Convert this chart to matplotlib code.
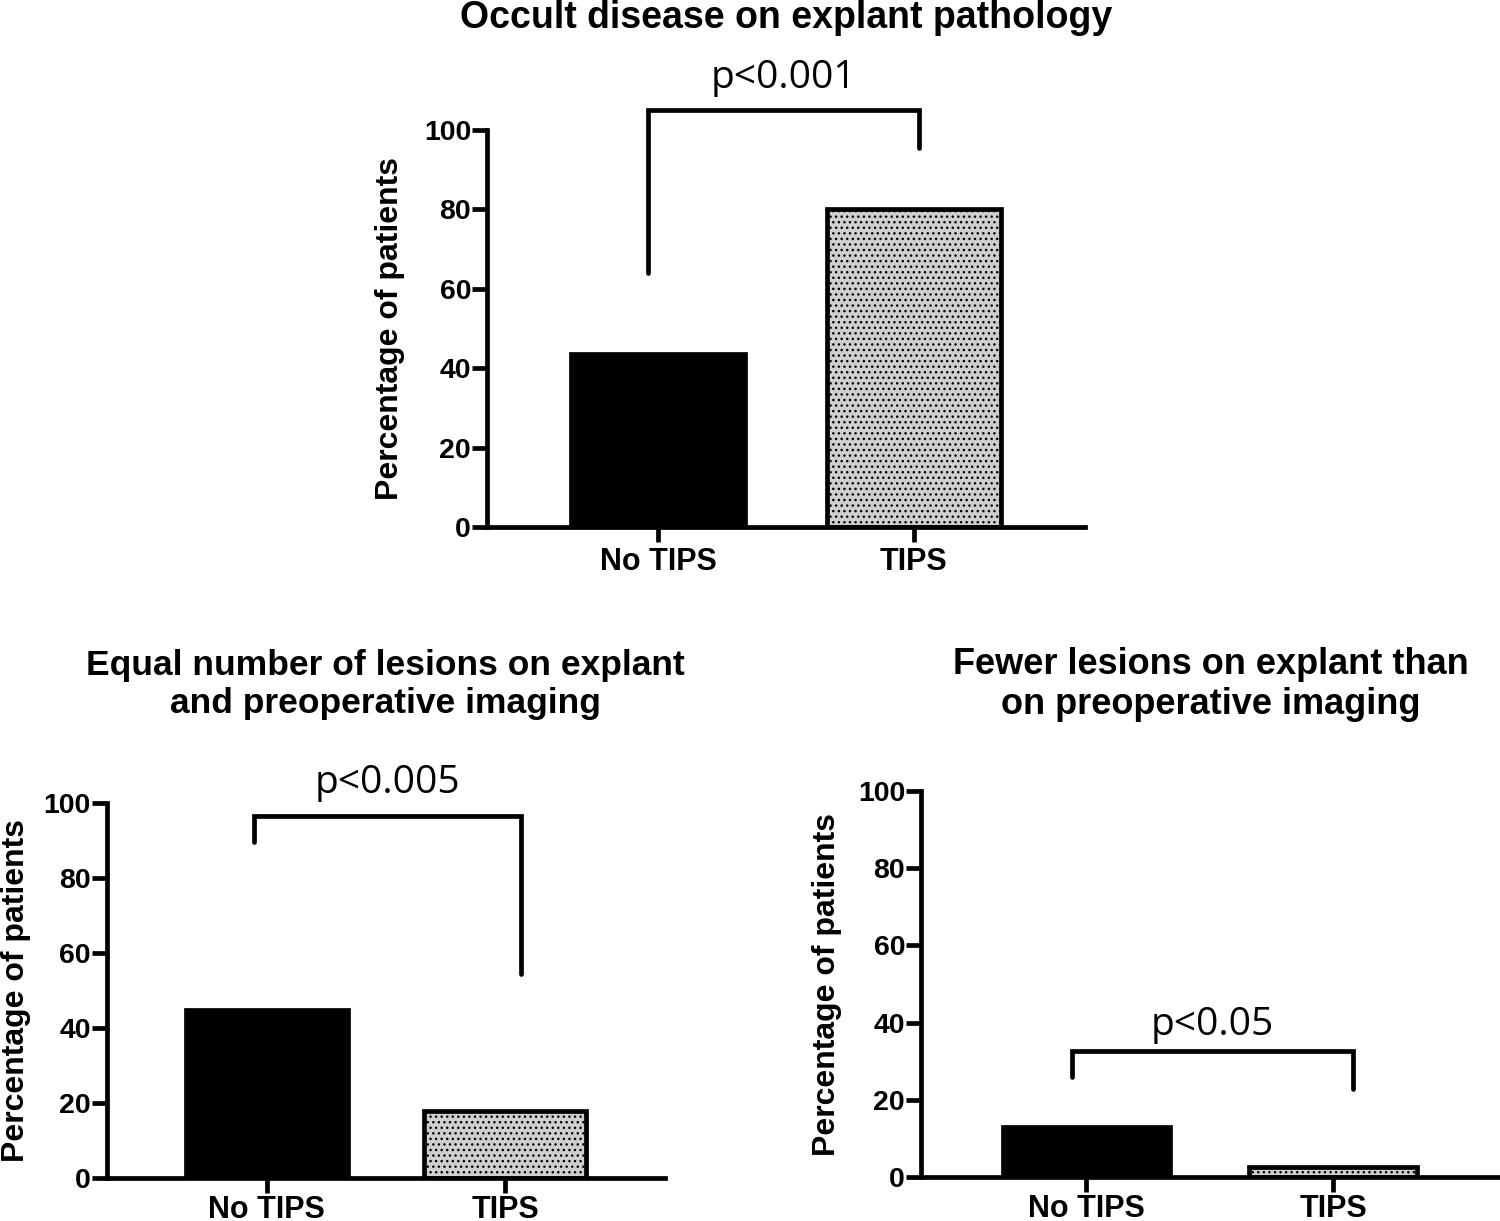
import numpy as np
import matplotlib
matplotlib.use("Agg")
import matplotlib.pyplot as plt

plt.rcParams["font.family"] = ["Liberation Sans", "DejaVu Sans"]
plt.rcParams["hatch.linewidth"] = 1.0
plt.rcParams["hatch.color"] = "black"

groups = ["No TIPS", "TIPS"]

titles = [
    "Occult disease on explant pathology",
    "Equal number of lesions on explant\nand preoperative imaging",
    "Fewer lesions on explant than\non preoperative imaging",
]
values = [
    [43.5, 80.0],
    [44.7, 17.8],
    [13.0, 2.6],
]
p_labels = ["p<0.001", "p<0.005", "p<0.05"]
# bracket: left x, right x, left low y, right low y, top y, text y
brackets = [
    (-0.04, 1.02, 64.0, 95.5, 105.0, 113.0),
    (-0.055, 1.067, 89.6, 54.3, 96.5, 105.3),
    (-0.058, 1.08, 26.0, 22.8, 32.6, 39.4),
]
yticks = [0, 20, 40, 60, 80, 100]

# axes rectangles in figure fractions
rects = [
    [0.3247, 0.5684, 0.3986, 0.3251],
    [0.0713, 0.0352, 0.3720, 0.3071],
    [0.6140, 0.0360, 0.3853, 0.3161],
]
title_pos = [(0.524, 0.985), (0.257, 0.4395), (0.807, 0.4395)]
title_size = [27, 25.5, 26]
xpad = [4, 1.5, 1.5]

LW = 3.4
fig = plt.figure(figsize=(15, 12.21), dpi=100)

for i in range(3):
    ax = fig.add_axes(rects[i])
    x = np.arange(len(groups))
    ax.bar(x[0], values[i][0], width=0.68, color="black", edgecolor="black", linewidth=LW)
    ax.bar(x[1], values[i][1], width=0.68, color="#cfcfcf", edgecolor="black",
           linewidth=LW, hatch="...")
    ax.set_xlim(-0.67, 1.67)
    ax.set_ylim(0, 100)
    ax.set_xticks(x)
    ax.set_xticklabels(groups, fontsize=22, fontweight="bold")
    ax.set_yticks(yticks)
    ax.set_yticklabels([str(t) for t in yticks], fontsize=20.5, fontweight="bold")
    ax.tick_params(axis="both", width=LW, length=10.5, direction="out")
    ax.tick_params(axis="y", pad=1)
    ax.tick_params(axis="x", pad=xpad[i])
    for s in ["top", "right"]:
        ax.spines[s].set_visible(False)
    for s in ["left", "bottom"]:
        ax.spines[s].set_linewidth(LW)
    ax.set_ylabel("Percentage of patients", fontsize=23, fontweight="bold")
    ax.yaxis.set_label_coords(-0.137, 0.5)

    xl, xr, yl, yr, yt, ytext = brackets[i]
    ax.plot([xl, xl, xr, xr], [yl, yt, yt, yr], color="black", lw=LW,
            solid_capstyle="round", solid_joinstyle="miter", clip_on=False)
    ax.text((xl + xr) / 2, ytext, p_labels[i], ha="center", va="center",
            fontsize=28, family=["Open Sans", "DejaVu Sans"], clip_on=False)

    fig.text(title_pos[i][0], title_pos[i][1], titles[i], ha="center", va="center",
             fontsize=title_size[i], fontweight="bold", linespacing=1.2)

fig.savefig("out.png", dpi=100)
